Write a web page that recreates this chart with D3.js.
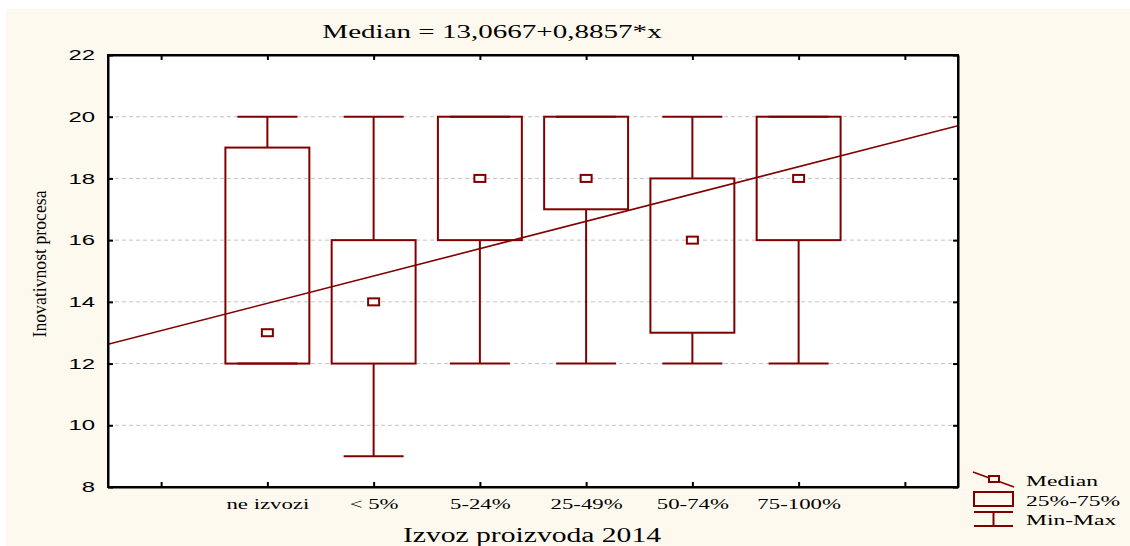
<!DOCTYPE html>
<html>
<head>
<meta charset="utf-8">
<script src="https://cdn.jsdelivr.net/npm/d3@7"></script>
<style>
  html, body { margin: 0; padding: 0; background: #ffffff; }
  svg { display: block; }
</style>
</head>
<body>
<svg id="chart" width="1130" height="546"></svg>
<script>
// ---- data ----
const categories = ["ne izvozi", "< 5%", "5-24%", "25-49%", "50-74%", "75-100%"];
const minVals    = [12, 9, 12, 12, 12, 12];
const q1Vals     = [12, 12, 16, 17, 13, 16];
const medianVals = [13, 14, 18, 18, 16, 18];
const q3Vals     = [19, 16, 20, 20, 18, 20];
const maxVals    = [20, 20, 20, 20, 20, 20];
const yTicks     = [8, 10, 12, 14, 16, 18, 20, 22];
const xTickPositions = [0, 1, 2, 3, 4, 5, 6, 7];
const fitIntercept = 13.0667;
const fitSlope     = 0.8857;
const titleText  = "Median = 13,0667+0,8857*x";
const xTitleText = "Izvoz proizvoda 2014";
const yTitleText = "Inovativnost procesa";
const legendLabels = ["Median", "25%-75%", "Min-Max"];

// ---- layout ----
const W = 1130, H = 546;
const plot = { left: 108, right: 958, top: 55, bottom: 487 };
const RED = "#800000";
const serif = "'Liberation Serif', 'Times New Roman', serif";
const sans  = "'Liberation Sans', Arial, sans-serif";

const svg = d3.select("#chart");

// stretch text horizontally (reference is horizontally widened)
function stretch(sel, k) {
  sel.each(function () {
    const len = this.getComputedTextLength();
    if (len > 0) {
      d3.select(this).attr("textLength", len * k).attr("lengthAdjust", "spacingAndGlyphs");
    }
  });
}

// background panel
svg.append("rect").attr("x", 6).attr("y", 9).attr("width", W - 6).attr("height", H - 9)
  .attr("fill", "#fdf9ef");
svg.append("rect").attr("x", plot.left).attr("y", plot.top)
  .attr("width", plot.right - plot.left).attr("height", plot.bottom - plot.top)
  .attr("fill", "#ffffff");

const x = d3.scaleLinear().domain([-0.5, 7.5]).range([plot.left, plot.right]);
const y = d3.scaleLinear().domain([8, 22]).range([plot.bottom, plot.top]);

// gridlines
svg.append("g").selectAll("line")
  .data(yTicks.filter(t => t > 8 && t < 22))
  .join("line")
  .attr("x1", plot.left).attr("x2", plot.right)
  .attr("y1", d => y(d)).attr("y2", d => y(d))
  .attr("stroke", "#c4c4c4").attr("stroke-width", 1)
  .attr("stroke-dasharray", "4,3");

// clip
svg.append("clipPath").attr("id", "plotclip").append("rect")
  .attr("x", plot.left).attr("y", plot.top)
  .attr("width", plot.right - plot.left).attr("height", plot.bottom - plot.top);

const rows = categories.map((c, i) => ({
  cat: c, pos: i + 1, min: minVals[i], q1: q1Vals[i], med: medianVals[i], q3: q3Vals[i], max: maxVals[i]
}));

const unit = x(1) - x(0);
const boxW = unit * 0.79;
const capW = unit * 0.565;

const gBox = svg.append("g").attr("clip-path", "url(#plotclip)");
// whiskers
gBox.selectAll("line.wlow").data(rows).join("line").attr("class", "wlow")
  .attr("x1", d => x(d.pos)).attr("x2", d => x(d.pos))
  .attr("y1", d => y(d.min)).attr("y2", d => y(d.q1))
  .attr("stroke", RED).attr("stroke-width", 2);
gBox.selectAll("line.whigh").data(rows).join("line").attr("class", "whigh")
  .attr("x1", d => x(d.pos)).attr("x2", d => x(d.pos))
  .attr("y1", d => y(d.q3)).attr("y2", d => y(d.max))
  .attr("stroke", RED).attr("stroke-width", 2);
gBox.selectAll("line.capmin").data(rows).join("line").attr("class", "capmin")
  .attr("x1", d => x(d.pos) - capW / 2).attr("x2", d => x(d.pos) + capW / 2)
  .attr("y1", d => y(d.min)).attr("y2", d => y(d.min))
  .attr("stroke", RED).attr("stroke-width", 2);
gBox.selectAll("line.capmax").data(rows).join("line").attr("class", "capmax")
  .attr("x1", d => x(d.pos) - capW / 2).attr("x2", d => x(d.pos) + capW / 2)
  .attr("y1", d => y(d.max)).attr("y2", d => y(d.max))
  .attr("stroke", RED).attr("stroke-width", 2);
// boxes
gBox.selectAll("rect.box").data(rows).join("rect").attr("class", "box")
  .attr("x", d => x(d.pos) - boxW / 2).attr("width", boxW)
  .attr("y", d => y(d.q3)).attr("height", d => y(d.q1) - y(d.q3))
  .attr("fill", "none").attr("stroke", RED).attr("stroke-width", 2);

// regression line
const fitLine = d3.line().x(d => x(d)).y(d => y(fitIntercept + fitSlope * d));
gBox.append("path").datum(x.domain())
  .attr("d", fitLine).attr("fill", "none")
  .attr("stroke", RED).attr("stroke-width", 1.6);

// median markers
gBox.selectAll("rect.med").data(rows).join("rect").attr("class", "med")
  .attr("x", d => x(d.pos) - 5.5).attr("width", 11)
  .attr("y", d => y(d.med) - 3.5).attr("height", 7)
  .attr("fill", "#ffffff").attr("stroke", RED).attr("stroke-width", 2);

// axes
const axL = svg.append("g").attr("transform", `translate(${plot.left},0)`)
  .call(d3.axisLeft(y).tickValues(yTicks).tickSizeInner(-5).tickSizeOuter(0).tickPadding(13).tickFormat(d3.format("d")));
const axR = svg.append("g").attr("transform", `translate(${plot.right},0)`)
  .call(d3.axisRight(y).tickValues(yTicks).tickSizeInner(-5).tickSizeOuter(0).tickFormat(""));
const axB = svg.append("g").attr("transform", `translate(0,${plot.bottom})`)
  .call(d3.axisBottom(x).tickValues(xTickPositions).tickSizeInner(-5).tickSizeOuter(0).tickPadding(11)
    .tickFormat(d => (d >= 1 && d <= categories.length) ? categories[d - 1] : ""));
const axT = svg.append("g").attr("transform", `translate(0,${plot.top})`)
  .call(d3.axisTop(x).tickValues(xTickPositions).tickSizeInner(-5).tickSizeOuter(0).tickFormat(""));

[axL, axR, axB, axT].forEach(a => {
  a.selectAll(".domain").attr("stroke", "#000").attr("stroke-width", 2);
  a.selectAll(".tick line").attr("stroke", "#000").attr("stroke-width", 2);
});
axL.selectAll(".tick text").attr("font-family", sans).attr("font-size", 14.5).attr("fill", "#000");
stretch(axL.selectAll(".tick text"), 1.65);
axB.selectAll(".tick text").attr("font-family", serif).attr("font-size", 15.5).attr("fill", "#000");
stretch(axB.selectAll(".tick text"), 1.47);

// frame
svg.append("rect").attr("x", plot.left).attr("y", plot.top)
  .attr("width", plot.right - plot.left).attr("height", plot.bottom - plot.top)
  .attr("fill", "none").attr("stroke", "#000").attr("stroke-width", 2);

// title
const title = svg.append("text").attr("x", 492).attr("y", 38)
  .attr("text-anchor", "middle").attr("font-family", serif).attr("font-size", 18.5)
  .attr("fill", "#000").text(titleText);
stretch(title, 1.57);

// x title
const xt = svg.append("text").attr("x", 532).attr("y", 542)
  .attr("text-anchor", "middle").attr("font-family", serif).attr("font-size", 20)
  .attr("fill", "#000").text(xTitleText);
stretch(xt, 1.48);

// y title
svg.append("text").attr("transform", "translate(46,264) rotate(-90)")
  .attr("text-anchor", "middle").attr("font-family", serif).attr("font-size", 19)
  .attr("textLength", 147).attr("lengthAdjust", "spacingAndGlyphs")
  .attr("fill", "#000").text(yTitleText);

// legend
const lg = svg.append("g");
lg.append("line").attr("x1", 973).attr("y1", 472).attr("x2", 1014).attr("y2", 487)
  .attr("stroke", RED).attr("stroke-width", 1.6);
lg.append("rect").attr("x", 989).attr("y", 476).attr("width", 10).attr("height", 6)
  .attr("fill", "#fdf9ef").attr("stroke", RED).attr("stroke-width", 2);
lg.append("rect").attr("x", 974).attr("y", 492).attr("width", 39).attr("height", 14)
  .attr("fill", "none").attr("stroke", RED).attr("stroke-width", 2);
lg.append("line").attr("x1", 974).attr("y1", 512).attr("x2", 1013).attr("y2", 512)
  .attr("stroke", RED).attr("stroke-width", 2);
lg.append("line").attr("x1", 993.5).attr("y1", 512).attr("x2", 993.5).attr("y2", 526)
  .attr("stroke", RED).attr("stroke-width", 2);
lg.append("line").attr("x1", 974).attr("y1", 526).attr("x2", 1013).attr("y2", 526)
  .attr("stroke", RED).attr("stroke-width", 2);
const lgText = lg.selectAll("text").data(legendLabels).join("text")
  .attr("x", 1026).attr("y", (d, i) => [486, 506, 525][i])
  .attr("font-family", serif).attr("font-size", 15.5).attr("fill", "#000")
  .text(d => d);
stretch(lgText, 1.52);
</script>
</body>
</html>
